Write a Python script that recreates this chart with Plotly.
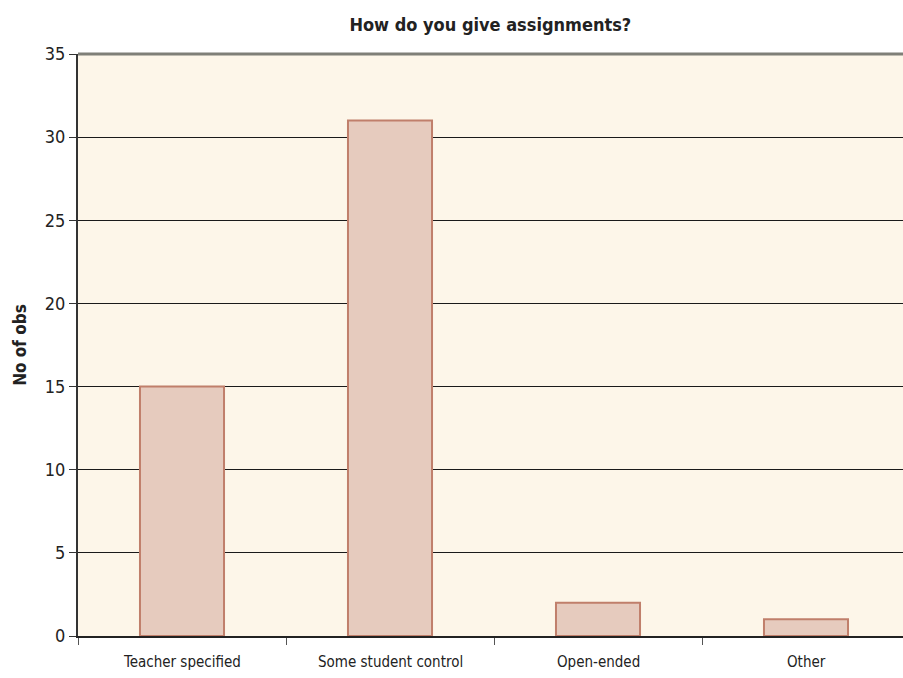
import plotly.graph_objects as go

# Survey responses: how assignments are given
categories = ["Teacher specified", "Some student control", "Open-ended", "Other"]
counts = [15, 31, 2, 1]
y_ticks = [0, 5, 10, 15, 20, 25, 30, 35]

FONT = "Liberation Sans Narrow, DejaVu Sans Condensed, Arial Narrow, sans-serif"

fig = go.Figure(
    go.Bar(
        x=list(range(len(categories))),
        y=counts,
        width=0.404,
        marker=dict(color="#e6cbbe", line=dict(color="#c07f6b", width=2)),
        hoverinfo="skip",
    )
)

fig.update_layout(
    width=903,
    height=678,
    margin=dict(l=78, r=0, t=54, b=42),
    paper_bgcolor="white",
    plot_bgcolor="#fdf6e9",
    showlegend=False,
    title=dict(
        text="<b>How do you give assignments?</b>",
        x=0.543, xanchor="center", y=0.963, yanchor="middle",
        font=dict(family=FONT, size=18, color="#222222"),
    ),
    font=dict(family=FONT, color="#222222"),
)

# category axis drawn on a linear scale so ticks sit on the boundaries
fig.update_xaxes(
    type="linear",
    tickmode="array",
    tickvals=[i - 0.5 for i in range(len(categories) + 1)],
    ticktext=[""] * (len(categories) + 1),
    range=[-0.5, (903 - 78) / 208 - 0.5],
    showgrid=False,
    zeroline=False,
    showline=True,
    linecolor="#222222",
    linewidth=1.5,
    ticks="outside",
    ticklen=7,
    tickcolor="#555555",
    tickwidth=1,
    fixedrange=True,
)
for i, name in enumerate(categories):
    fig.add_annotation(
        x=i, y=0, xref="x", yref="paper",
        text=name, showarrow=False, yanchor="top", yshift=-15,
        font=dict(family=FONT, size=15, color="#222222"),
    )

fig.update_yaxes(
    range=[0, 35],
    tickmode="array",
    tickvals=y_ticks,
    ticktext=[str(v) for v in y_ticks],
    showgrid=True,
    gridcolor="#1a1a1a",
    gridwidth=1,
    zeroline=False,
    showline=True,
    linecolor="#333333",
    linewidth=2,
    ticks="outside",
    ticklen=7,
    tickcolor="#333333",
    tickwidth=1,
    tickfont=dict(family=FONT, size=18, color="#222222"),
    title=dict(text="<b>No of obs</b>", font=dict(family=FONT, size=17, color="#222222"), standoff=14),
    fixedrange=True,
)

# top frame line
fig.add_shape(
    type="line", xref="paper", yref="paper", x0=0, x1=1, y0=1, y1=1,
    line=dict(color="#7f7f78", width=3), layer="above",
)

fig.write_html("out.html")
